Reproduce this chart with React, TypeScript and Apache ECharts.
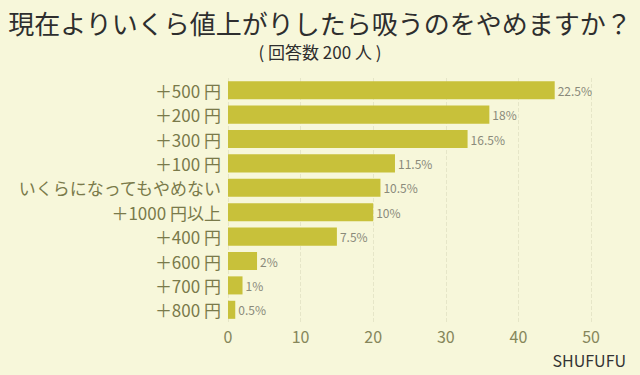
import React, { useEffect, useRef } from "react";
import * as echarts from "echarts";

const categories = [
  "＋500 円",
  "＋200 円",
  "＋300 円",
  "＋100 円",
  "いくらになってもやめない",
  "＋1000 円以上",
  "＋400 円",
  "＋600 円",
  "＋700 円",
  "＋800 円",
];
const counts = [45, 36, 33, 23, 21, 20, 15, 4, 2, 1];
const percents = ["22.5%", "18%", "16.5%", "11.5%", "10.5%", "10%", "7.5%", "2%", "1%", "0.5%"];
const xTicks = { min: 0, max: 50, interval: 10 };

const FONT = "'Noto Sans CJK JP', 'Noto Sans', sans-serif";

export default function App() {
  const ref = useRef<HTMLDivElement>(null);
  useEffect(() => {
    if (!ref.current) return;
    const chart = echarts.init(ref.current, undefined, { renderer: "svg" });
    chart.setOption({
      animation: false,
      backgroundColor: "#f7f7da",
      textStyle: { fontFamily: FONT },
      title: [
        {
          text: "現在よりいくら値上がりしたら吸うのをやめますか？",
          left: "center",
          top: 9,
          padding: 0,
          textStyle: { fontSize: 26, lineHeight: 27, fontWeight: "normal", color: "#2e2e2e", fontFamily: FONT },
        },
        {
          text: "( 回答数 200 人 )",
          left: "center",
          top: 43,
          padding: 0,
          textStyle: { fontSize: 17, lineHeight: 17, fontWeight: "normal", color: "#2e2e2e", fontFamily: FONT },
        },
        {
          text: "SHUFUFU",
          right: 9,
          top: 347,
          textStyle: { fontSize: 16, fontWeight: "normal", color: "#333", fontFamily: FONT },
        },
      ],
      grid: { left: 228, right: 49, top: 78, bottom: 53, containLabel: false },
      xAxis: {
        type: "value",
        min: xTicks.min,
        max: xTicks.max,
        interval: xTicks.interval,
        axisLine: { show: false },
        axisTick: { show: false },
        axisLabel: { fontSize: 16, color: "#86865a", margin: 6, fontFamily: FONT },
        splitLine: { show: true, lineStyle: { type: "dashed", color: "#e6e6c8", width: 1 } },
      },
      yAxis: {
        type: "category",
        data: categories,
        inverse: true,
        axisLine: { show: false },
        axisTick: { show: false },
        axisLabel: { fontSize: 17, color: "#7a7a4a", margin: 7, fontFamily: FONT },
      },
      series: [
        {
          type: "bar",
          data: counts,
          barWidth: "74%",
          itemStyle: { color: "#c8c13a" },
          label: {
            show: true,
            position: "right",
            distance: 3,
            fontSize: 12,
            color: "#8a8a7a",
            fontFamily: FONT,
            formatter: (p: any) => percents[p.dataIndex],
          },
        },
      ],
    });
    return () => chart.dispose();
  }, []);
  return <div ref={ref} style={{ width: 640, height: 375, position: "absolute", left: 0, top: 0 }} />;
}
